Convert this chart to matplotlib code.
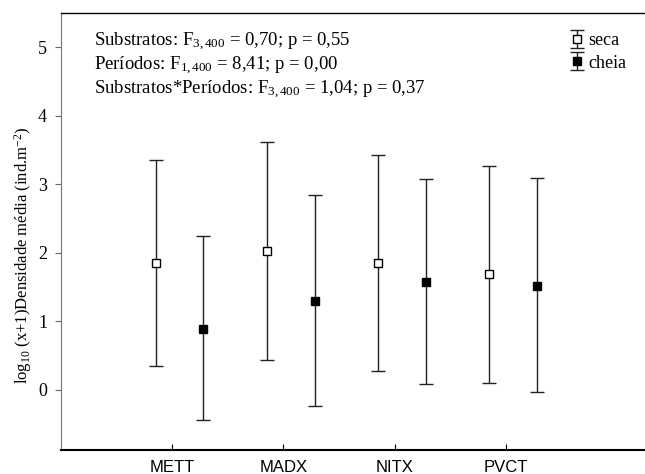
import matplotlib
matplotlib.use("Agg")
import matplotlib.pyplot as plt
import numpy as np

categories = ["METT", "MADX", "NITX", "PVCT"]
seca_mean = [1.85, 2.03, 1.85, 1.69]
seca_upper = [3.35, 3.62, 3.42, 3.27]
seca_lower = [0.34, 0.44, 0.28, 0.10]
cheia_mean = [0.89, 1.30, 1.58, 1.52]
cheia_upper = [2.24, 2.84, 3.08, 3.09]
cheia_lower = [-0.44, -0.24, 0.08, -0.04]
yticks = [0, 1, 2, 3, 4, 5]

plt.rcParams['mathtext.fontset'] = 'custom'
plt.rcParams['mathtext.rm'] = 'Liberation Serif'
plt.rcParams['mathtext.it'] = 'Liberation Serif:italic'
serif = 'Liberation Serif'

fig = plt.figure(figsize=(6.45, 4.74), dpi=100)
ax = fig.add_axes([61/645, 24/474, 1 - 61/645 + 0.01, (450-13)/474])

x = np.arange(len(categories))
off_s, off_c = -0.15, 0.28
sm = np.array(seca_mean); cm = np.array(cheia_mean)
s_err = [sm - np.array(seca_lower), np.array(seca_upper) - sm]
c_err = [cm - np.array(cheia_lower), np.array(cheia_upper) - cm]

h1 = ax.errorbar(x + off_s, sm, yerr=s_err, fmt='s', mfc='white', mec='black', mew=1.0,
                 ms=6, ecolor='#222222', elinewidth=1.0, capsize=5, capthick=1.0, color='black', label='seca')
h2 = ax.errorbar(x + off_c, cm, yerr=c_err, fmt='s', mfc='black', mec='black', mew=1.0,
                 ms=6, ecolor='#222222', elinewidth=1.0, capsize=5, capthick=1.0, color='black', label='cheia')

ax.set_xlim(-1.0, 4.31)
ax.set_ylim(-0.88, 5.5)
ax.set_xticks(x)
ax.set_xticklabels(categories, fontfamily='Liberation Sans', fontsize=12)
ax.set_yticks(yticks)
ax.set_yticklabels([str(v) for v in yticks], fontfamily=serif, fontsize=13)
ax.tick_params(axis='x', direction='in', length=4, pad=7)
ax.tick_params(axis='y', direction='out', length=4, pad=6, color='#666666')
ax.spines['right'].set_visible(False)
ax.spines['left'].set_color('#777777')
ax.spines['bottom'].set_linewidth(1.5)
ax.spines['top'].set_linewidth(1.0)

ax.set_ylabel(r'log$_{10}$ (x+1)Densidade média (ind.m$^{-2}$)', fontfamily=serif, fontsize=12)
ax.yaxis.set_label_coords(34/645, (474-255)/474, transform=fig.transFigure)

lines = [r'Substratos: F$_{\mathrm{3,400}}$ = 0,70; p = 0,55',
         r'Períodos: F$_{\mathrm{1,400}}$ = 8,41; p = 0,00',
         r'Substratos*Períodos: F$_{\mathrm{3,400}}$ = 1,04; p = 0,37']
for i, t in enumerate(lines):
    ax.text(94, 474 - 42 - 24*i, t, transform=None, fontfamily=serif, fontsize=13.5, va='center', ha='left')

leg = ax.legend(handles=[h1, h2], loc='upper right', bbox_to_anchor=(643/645, 458/474),
                bbox_transform=fig.transFigure, frameon=False, handlelength=0.7,
                handletextpad=0.3, labelspacing=0.3, prop={'family': serif, 'size': 13})

fig.savefig('out.png', dpi=100)
